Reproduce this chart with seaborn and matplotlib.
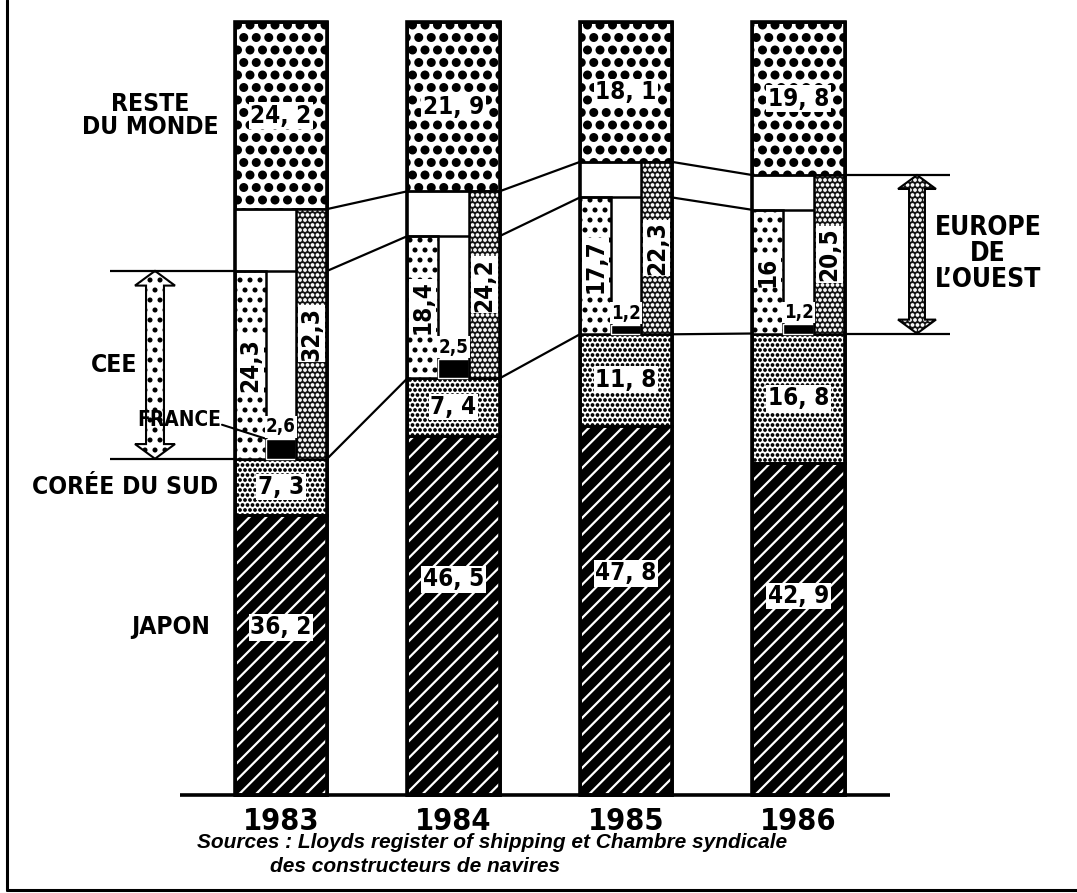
import numpy as np
import matplotlib
matplotlib.use("Agg")
import matplotlib.pyplot as plt
import matplotlib.hatch as mhatch
from matplotlib.patches import Polygon
from matplotlib.lines import Line2D
from matplotlib.font_manager import FontProperties, fontManager
from matplotlib.textpath import TextToPath
import seaborn as sns

# shipbuilding shares (%)
years = ["1983", "1984", "1985", "1986"]
japon = [36.2, 46.5, 47.8, 42.9]
coree = [7.3, 7.4, 11.8, 16.8]
europe_ouest = [32.3, 24.2, 22.3, 20.5]
cee = [24.3, 18.4, 17.7, 16.0]
france = [2.6, 2.5, 1.2, 1.2]
reste_monde = [24.2, 21.9, 18.1, 19.8]


# halftone-like dot screens: replace the stock circle hatches
# (rows per character must stay even for the staggered grid)
class _Dots(mhatch.Circles):
    filled = True
    key, per_char, size = ".", 20, 0.14

    def __init__(self, hatch, density):
        self.num_rows = hatch.count(self.key) * self.per_char
        super().__init__(hatch, density)


class FineDots(_Dots):
    key, per_char, size = ".", 20, 0.15


class SparseDots(_Dots):
    key, per_char, size = "o", 10, 0.14


class BigDots(_Dots):
    key, per_char, size = "O", 8, 0.27


mhatch._hatch_types = [mhatch.HorizontalHatch, mhatch.VerticalHatch,
                       mhatch.NorthEastHatch, mhatch.SouthEastHatch,
                       FineDots, SparseDots, BigDots]


def pick_condensed():
    for f in fontManager.ttflist:
        if "Mono" in f.name or "Serif" in f.name:
            continue
        if ("Narrow" in f.name or "Condensed" in f.name
                or f.stretch in ("condensed", "semi-condensed", "extra-condensed")):
            return f.name
    return "Roboto"


sns.set_theme(style="white")
narrow = pick_condensed()
plt.rcParams["font.family"] = [narrow, "DejaVu Sans"]
plt.rcParams["font.stretch"] = "condensed"
plt.rcParams["text.color"] = "black"
plt.rcParams["hatch.linewidth"] = 1.6

# shrink sizes if the only heavy font at hand is wider than a narrow face
_w = TextToPath().get_text_width_height_descent(
    "1983", FontProperties(family=[narrow, "DejaVu Sans"], weight="bold",
                           stretch="condensed", size=100), ismath=False)[0]
K = min(1.0, 182.4 / _w) ** 0.75

# page layout (pixels of the 1077x893 picture)
X0, DX = 281, 172.5
Y0, DY = 795, 7.73


def px_x(p):
    return (p - X0) / DX


def px_y(p):
    return (Y0 - p) / DY


def fmt(v, sep=","):
    s = f"{v:.1f}"
    if s.endswith(".0"):
        s = s[:-2]
    return s.replace(".", sep)


def double_arrow(ax, x, y0, y1, shaft, head, head_len, **kw):
    pts = [(x, y1), (x + head, y1 - head_len), (x + shaft, y1 - head_len),
           (x + shaft, y0 + head_len), (x + head, y0 + head_len), (x, y0),
           (x - head, y0 + head_len), (x - shaft, y0 + head_len),
           (x - shaft, y1 - head_len), (x - head, y1 - head_len)]
    ax.add_patch(Polygon(pts, closed=True, **kw))


xs = np.arange(len(years))
W = 0.535
sub = W / 3
cor_top = np.add(japon, coree)
cee_top = cor_top + np.array(cee)
fr_top = cor_top + np.array(france)
eur_top = cor_top + np.array(europe_ouest)
totals = eur_top + np.array(reste_monde)

fig = plt.figure(figsize=(10.77, 8.93), dpi=100)
ax = fig.add_axes([0, 0, 1, 1])

# full-width layers
sns.barplot(x=years, y=japon, width=W, color="black", edgecolor="white",
            linewidth=0, hatch="//", saturation=1, errorbar=None, ax=ax, zorder=2)
sns.barplot(x=years, y=coree, bottom=japon, width=W, color="white", edgecolor="black",
            linewidth=2, hatch=".", saturation=1, errorbar=None, ax=ax, zorder=2)
sns.barplot(x=years, y=reste_monde, bottom=eur_top, width=W, color="white",
            edgecolor="black", linewidth=2, hatch="O", saturation=1, errorbar=None,
            ax=ax, zorder=2)

# Europe de l'Ouest split in three narrow columns
ax.bar(xs - W / 2, cee, width=sub, bottom=cor_top, align="edge", facecolor="white",
       edgecolor="black", hatch="o", linewidth=1.8, zorder=2)
ax.bar(xs - W / 2 + sub, france, width=sub, bottom=cor_top, align="edge",
       color="black", zorder=2)
ax.bar(xs + W / 2 - sub, europe_ouest, width=sub, bottom=cor_top, align="edge",
       facecolor="#141414", edgecolor="white", hatch=".", linewidth=0, zorder=2)
ax.bar(xs + W / 2 - sub, europe_ouest, width=sub, bottom=cor_top, align="edge",
       facecolor="none", edgecolor="black", linewidth=1.8, zorder=3)
ax.bar(xs, japon, width=W, facecolor="none", edgecolor="black", linewidth=2, zorder=3)
ax.bar(xs, totals, width=W, facecolor="none", edgecolor="black", linewidth=2.6, zorder=3)
ax.hlines(cee_top, xs - W / 2, xs + W / 2 - sub, color="black", lw=1.8, zorder=3)

# lines joining the bars
for lvl in (eur_top, cee_top, cor_top):
    for i in range(len(years) - 1):
        ax.plot([i + W / 2, i + 1 - W / 2], [lvl[i], lvl[i + 1]],
                color="black", lw=1.6, zorder=1)

# value labels
box = dict(facecolor="white", edgecolor="none", pad=1.0)
big = dict(ha="center", va="center", fontsize=22 * K, fontweight="bold", bbox=box,
           zorder=5)
for i in xs:
    ax.text(i, japon[i] * 0.6, fmt(japon[i], ", "), **big)
    ax.text(i, japon[i] + coree[i] / 2, fmt(coree[i], ", "), **big)
    ax.text(i, eur_top[i] + reste_monde[i] / 2, fmt(reste_monde[i], ", "), **big)
    ax.text(i - W / 2 + sub / 2, cor_top[i] + cee[i] / 2, fmt(cee[i]),
            rotation=90, **big)
    ax.text(i + W / 2 - sub / 2, cor_top[i] + europe_ouest[i] / 2, fmt(europe_ouest[i]),
            rotation=90, **big)
    ax.text(i - W / 2 + 1.5 * sub, fr_top[i] + 0.3, fmt(france[i]), ha="center",
            va="bottom", fontsize=17 * K, fontweight="bold", bbox=box, zorder=5)
    ax.text(i, px_y(821), years[i], ha="center", va="center", fontsize=28 * K,
            fontweight="bold")

# left-hand captions
lab = dict(va="center", fontweight="bold", fontsize=22.5 * K)
ax.text(px_x(150), eur_top[0] + reste_monde[0] / 2, "RESTE\nDU MONDE", ha="center",
        linespacing=0.95, **lab)
ax.text(px_x(114), (cor_top[0] + cee_top[0]) / 2, "CEE", ha="center", **lab)
ax.text(px_x(218), japon[0] + coree[0] / 2, "CORÉE DU SUD", ha="right", **lab)
ax.text(px_x(171), japon[0] * 0.6, "JAPON", ha="center", **lab)
ax.text(px_x(221), cor_top[0] + 5, "FRANCE", ha="right", va="center",
        fontsize=19 * K, fontweight="bold", zorder=5)
ax.plot([px_x(222), xs[0] - W / 2 + sub], [cor_top[0] + 4.4, fr_top[0]],
        color="black", lw=1.5, zorder=4)

# CEE bracket
ax.hlines([cee_top[0], cor_top[0]], px_x(110), -W / 2, color="black", lw=1.6)
double_arrow(ax, px_x(155), cor_top[0], cee_top[0], 0.052, 0.116, 1.9,
             facecolor="white", edgecolor="black", hatch="o", lw=1.5, zorder=3)

# Europe de l'Ouest bracket
ax.hlines([eur_top[3], cor_top[3]], 3 + W / 2, px_x(950), color="black", lw=1.6)
double_arrow(ax, px_x(917), cor_top[3], eur_top[3], 0.046, 0.11, 1.8,
             facecolor="#141414", edgecolor="white", hatch=".", lw=0, zorder=3)
double_arrow(ax, px_x(917), cor_top[3], eur_top[3], 0.046, 0.11, 1.8,
             facecolor="none", edgecolor="black", lw=1.5, zorder=3)
ax.text(px_x(988), (cor_top[3] + eur_top[3]) / 2, "EUROPE\nDE\nL’OUEST", ha="center",
        va="center", fontsize=24 * K, fontweight="bold", linespacing=1.0)

# base line and source
ax.plot([px_x(180), px_x(890)], [0, 0], color="black", lw=2.6, solid_capstyle="butt")
src = dict(ha="left", va="center", fontsize=15, style="italic", fontweight="bold",
           stretch="normal", family=["Liberation Sans", "DejaVu Sans"])
ax.text(px_x(197), px_y(843), "Sources : Lloyds register of shipping et Chambre syndicale", **src)
ax.text(px_x(270), px_y(867), "des constructeurs de navires", **src)

# page frame (left and bottom rules)
fig.add_artist(Line2D([7 / 1077, 7 / 1077], [1, 1 - 890 / 893], color="black", lw=2.2))
fig.add_artist(Line2D([7 / 1077, 1], [1 - 890 / 893, 1 - 890 / 893], color="black", lw=2.2))

ax.set_xlim(px_x(0), px_x(1077))
ax.set_ylim(px_y(893), px_y(0))
ax.axis("off")

fig.savefig("out.png", dpi=100)
